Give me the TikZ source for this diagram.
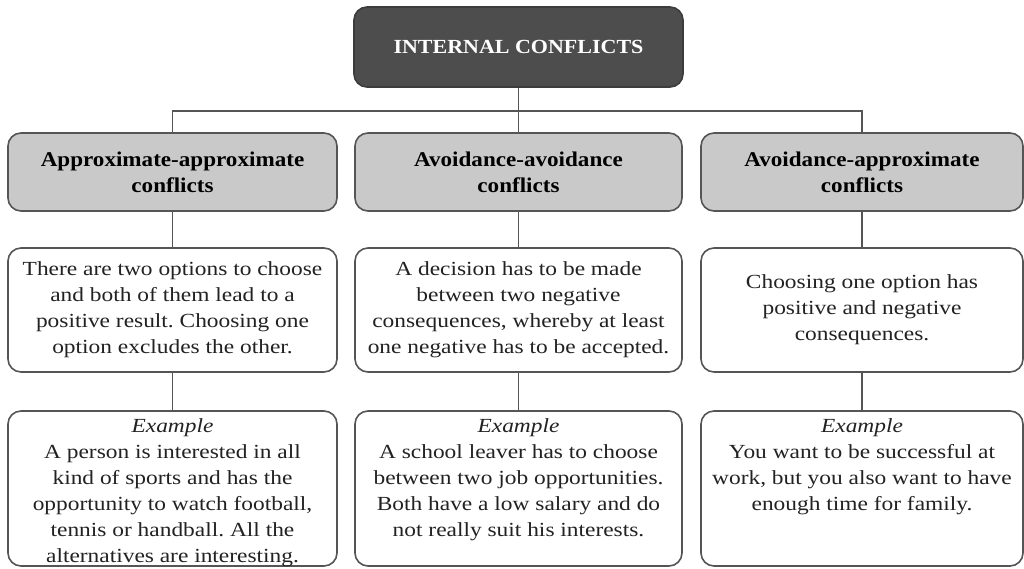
\documentclass[tikz,border=0pt]{standalone}
\usepackage{fontspec}
\setmainfont{Liberation Serif}
\newfontfamily\bodyfont{Liberation Serif}[FakeStretch=1.17]
\newfontfamily\headfont{Liberation Serif}[FakeStretch=1.1]
\frenchspacing
\definecolor{boxline}{HTML}{555555}
\definecolor{darkfill}{HTML}{4D4D4D}
\definecolor{darkline}{HTML}{3C3C3C}
\definecolor{midfill}{HTML}{C9C9C9}
\definecolor{inktext}{HTML}{222222}
\begin{document}
\begin{tikzpicture}[x=1pt,y=-1pt,
  conn/.style={draw=boxline, line width=1.6pt},
  basebox/.style={draw=boxline, line width=1.6pt, rounded corners=13pt, inner sep=0pt, align=center},
  titlebox/.style={basebox, draw=darkline, fill=darkfill, text=white,
    minimum width=329pt, minimum height=80pt,
    font=\headfont\bfseries\fontsize{20}{24}\selectfont},
  typebox/.style={basebox, fill=midfill, text=black, minimum height=78pt,
    font=\headfont\bfseries\fontsize{21}{26}\selectfont},
  descbox/.style={basebox, fill=white, text=inktext, minimum height=124pt,
    font=\bodyfont\fontsize{20}{26}\selectfont},
  examplebox/.style={basebox, fill=white, text=inktext, minimum height=155pt,
    font=\bodyfont\fontsize{20}{26}\selectfont}
]
\useasboundingbox (0,0) rectangle (1024,568);

% root
\node[titlebox] (root) at (518.5,47) {INTERNAL CONFLICTS};

% conflict types
\node[typebox, minimum width=329pt] (ta) at (172.5,172) {Approximate-approximate\\conflicts};
\node[typebox, minimum width=327pt] (tb) at (518.5,172) {Avoidance-avoidance\\conflicts};
\node[typebox, minimum width=322pt] (tc) at (862,172) {Avoidance-approximate\\conflicts};

% descriptions
\node[descbox, minimum width=329pt] (da) at (172.5,310)
  {There are two options to choose\\and both of them lead to a\\positive result. Choosing one\\option excludes the other.};
\node[descbox, minimum width=327pt] (db) at (518.5,310)
  {A decision has to be made\\between two negative\\consequences, whereby at least\\one negative has to be accepted.};
\node[descbox, minimum width=322pt] (dc) at (862,310)
  {Choosing one option has\\positive and negative\\consequences.};

% examples (text set from the top of each box)
\node[examplebox, minimum width=329pt] (ea) at (172.5,488.5)
  {\parbox[c][149pt][t]{325pt}{\vspace*{5pt}\centering\textit{Example}\\A person is interested in all\\kind of sports and has the\\opportunity to watch football,\\tennis or handball. All the\\alternatives are interesting.}};
\node[examplebox, minimum width=327pt] (eb) at (518.5,488.5)
  {\parbox[c][149pt][t]{323pt}{\vspace*{5pt}\centering\textit{Example}\\A school leaver has to choose\\between two job opportunities.\\Both have a low salary and do\\not really suit his interests.}};
\node[examplebox, minimum width=322pt] (ec) at (862,488.5)
  {\parbox[c][149pt][t]{318pt}{\vspace*{5pt}\centering\textit{Example}\\You want to be successful at\\work, but you also want to have\\enough time for family.}};

% connectors
\draw[conn] (root.south) -- ++(0,23) coordinate (hub);
\draw[conn] (hub) -| (ta.north);
\draw[conn] (hub) -| (tc.north);
\draw[conn] (hub) -- (tb.north);
\foreach \c in {a,b,c}{
  \draw[conn] (t\c.south) -- (d\c.north);
  \draw[conn] (d\c.south) -- (e\c.north);
}
\end{tikzpicture}
\end{document}
